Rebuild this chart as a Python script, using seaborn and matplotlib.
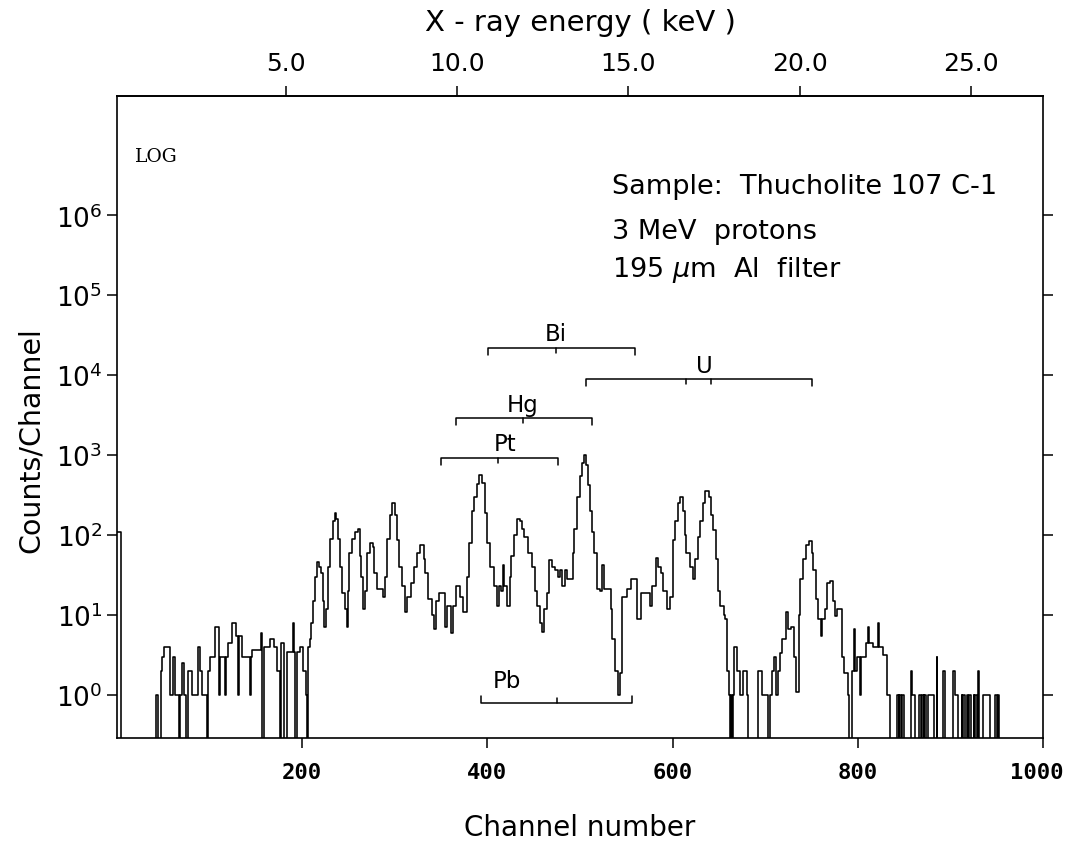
import numpy as np
import pandas as pd
import matplotlib
matplotlib.use('Agg')
import matplotlib.pyplot as plt
import seaborn as sns
from matplotlib.ticker import FixedLocator, FixedFormatter, LogFormatterMathtext, NullLocator, FormatStrFormatter

# Spectrum read off the figure as steps: channel where a level starts, counts at that level
# channels 0 - 204
chan_a = [0, 4, 42, 44, 47, 49, 51, 57, 61, 63,
          67, 68, 70, 72, 75, 77, 81, 88, 90, 92,
          97, 98, 100, 106, 110, 111, 117, 118, 120, 124,
          128, 131, 132, 135, 144, 145, 146, 156, 157, 159,
          165, 170, 173, 176, 177, 180, 184, 190, 191, 192,
          194, 198, 201, 204]
counts_a = [110, 0, 1, 0, 2, 3, 4, 1, 3, 1,
            0, 1, 2.5, 1, 0, 2, 1, 4, 2, 1,
            0, 2, 3, 7, 1, 3, 1, 3, 4.5, 8,
            5.5, 1, 5.5, 3, 1, 3, 3.7, 6, 0, 4,
            5, 4, 2, 0, 4.5, 0, 3.5, 8, 3.5, 0,
            3.5, 4, 2, 1]

# channels 205 - 544 (Pt, Hg, Bi, Pb region)
chan_b = [205, 206, 208, 210, 212, 214, 216, 218, 220, 222,
          224, 226, 228, 230, 233, 235, 237, 239, 241, 243,
          246, 248, 249, 251, 254, 257, 260, 262, 264, 266,
          268, 270, 273, 276, 278, 281, 287, 289, 292, 295,
          297, 300, 302, 305, 308, 311, 313, 318, 321, 324,
          327, 331, 333, 336, 340, 342, 345, 348, 354, 356,
          361, 363, 366, 370, 374, 378, 380, 383, 386, 389,
          391, 394, 397, 400, 403, 407, 410, 412, 415, 417,
          418, 421, 424, 426, 429, 432, 435, 437, 440, 444,
          448, 451, 454, 457, 459, 461, 464, 467, 470, 473,
          476, 478, 481, 484, 486, 492, 494, 497, 500, 502,
          504, 507, 509, 511, 513, 515, 518, 522, 524, 526,
          533, 535, 538, 541, 543]
counts_b = [0, 4, 5, 8, 15, 30, 46, 40, 34, 15,
            7, 12, 40, 90, 150, 190, 160, 90, 40, 19,
            12, 7, 20, 60, 90, 110, 120, 54, 30, 12,
            20, 60, 80, 70, 34, 21, 17, 30, 90, 180,
            250, 180, 87, 40, 23, 11, 17, 25, 40, 60,
            75, 50, 34, 16, 10, 6.6, 15, 19, 7, 13,
            6, 13, 23, 17, 11, 30, 80, 200, 300, 440,
            560, 450, 190, 80, 40, 23, 13, 23, 20, 42,
            23, 13, 30, 54, 100, 160, 150, 120, 95, 60,
            40, 20, 13, 8, 6.2, 12, 19, 49, 40, 37,
            30, 37, 23, 37, 28, 60, 120, 300, 550, 800,
            1000, 750, 420, 200, 110, 60, 21, 20, 42, 21,
            12, 5, 2, 1, 1.9]

# channels 545 - 834 (U region)
chan_c = [545, 551, 555, 562, 566, 576, 578, 582, 584, 587,
          590, 594, 597, 600, 603, 606, 608, 611, 613, 615,
          619, 622, 624, 627, 630, 633, 635, 639, 642, 644,
          647, 649, 651, 655, 657, 659, 661, 662, 663, 664,
          665, 666, 670, 673, 676, 680, 681, 692, 697, 703,
          705, 707, 709, 712, 714, 716, 718, 722, 723, 725,
          728, 731, 733, 736, 738, 741, 744, 747, 750, 752,
          755, 757, 760, 761, 765, 767, 770, 773, 775, 778,
          783, 785, 789, 791, 794, 796, 797, 799, 802, 803,
          809, 811, 812, 816, 822, 823, 827, 832]
counts_c = [17, 21, 28, 9, 19, 13, 23, 52, 40, 34,
            20, 12, 17, 87, 150, 250, 300, 200, 100, 60,
            40, 28, 50, 95, 150, 250, 360, 300, 180, 115,
            50, 20, 13, 10, 9, 2, 1, 0, 1, 0,
            1, 4, 2, 1, 2, 1, 0, 2, 1, 0,
            1, 2, 3, 1, 2, 3.4, 5, 8, 11, 6.6,
            7, 3, 1.1, 10, 28, 50, 75, 85, 60, 37,
            16, 9, 5.4, 9, 12, 25, 27, 15, 9.6, 12,
            3, 1.9, 1, 0, 2, 6.6, 2, 3, 1, 3,
            4.5, 7, 4.5, 4, 8, 4, 3.2, 1]

# channels 835 - 1000 (tail of single counts)
chan_d = [835, 842, 844, 845, 847, 848, 850, 857, 859, 862,
          866, 868, 869, 871, 872, 874, 876, 882, 885, 886,
          892, 894, 903, 905, 908, 912, 913, 914, 916, 918,
          919, 920, 922, 925, 926, 927, 929, 930, 931, 935,
          943, 948, 950, 951, 953, 1000]
counts_d = [0, 1, 0, 1, 0, 1, 0, 2, 1, 0,
            1, 0, 1, 0, 1, 0, 1, 0, 3, 0,
            2, 0, 2, 1, 0, 1, 0, 1, 0, 1,
            0, 1, 0, 1, 0, 1, 0, 2, 0, 1,
            0, 1, 0, 1, 0, 0]

# Element line markers: name, bracket ends, inner ticks, level, label channel
elements = ['Bi', 'U', 'Hg', 'Pt', 'Pb']
bracket_left = [401, 507, 366, 350, 393]
bracket_right = [559, 750, 513, 476, 556]
bracket_ticks = [[474], [615, 642], [438], [411], [475]]
bracket_level = [2.2e4, 8.9e3, 2.9e3, 930, 0.8]
label_chan = [474, 634, 438, 419, 421]

energy_ticks = [5.0, 10.0, 15.0, 20.0, 25.0]
channel_ticks = [200, 400, 600, 800, 1000]
channel_labels = ['200', '400', '600', '800', '']
count_ticks = [1, 10, 100, 1e3, 1e4, 1e5, 1e6]

df = pd.DataFrame({'channel': chan_a + chan_b + chan_c + chan_d,
                   'counts': counts_a + counts_b + counts_c + counts_d})
# empty channels sit on the bottom of the log axis
df['shown'] = df['counts'].where(df['counts'] > 0, 0.05)

sns.set_theme(style='ticks')
plt.rcParams['font.family'] = ['DejaVu Sans']
plt.rcParams['mathtext.fontset'] = 'dejavusans'
for key in ['text.color', 'axes.labelcolor', 'xtick.color', 'ytick.color', 'axes.edgecolor']:
    plt.rcParams[key] = 'black'

fig = plt.figure(figsize=(10.66, 8.45), dpi=100)
ax = fig.add_axes([117 / 1066, 1 - 739 / 845, 926 / 1066, 642 / 845])

sns.lineplot(data=df, x='channel', y='shown', drawstyle='steps-post', color='black',
             lw=1.15, estimator=None, sort=False, ax=ax)

ax.set_yscale('log')
ax.set_xlim(0, 1000)
ax.set_ylim(0.29, 3.1e7)
ax.yaxis.set_major_locator(FixedLocator(count_ticks))
ax.yaxis.set_major_formatter(LogFormatterMathtext())
ax.yaxis.set_minor_locator(NullLocator())
ax.xaxis.set_major_locator(FixedLocator(channel_ticks))
ax.xaxis.set_major_formatter(FixedFormatter(channel_labels))
ax.tick_params(axis='both', direction='out', length=7, width=1.1, labelsize=19)
ax.tick_params(axis='y', right=True, labelright=False)
ax.tick_params(axis='x', labelsize=16, pad=10)
for lab in ax.get_xticklabels():
    lab.set_fontfamily('DejaVu Sans Mono')
    lab.set_fontweight('bold')
# last channel label sits against the right edge of the figure, as in the original
ax.annotate(str(channel_ticks[-1]), xy=(channel_ticks[-1], 0), xycoords=('data', 'axes fraction'),
            xytext=(15, -17), textcoords='offset points', ha='right', va='top',
            fontsize=16, family='DejaVu Sans Mono', fontweight='bold')
for sp in ax.spines.values():
    sp.set_visible(True)
    sp.set_linewidth(1.2)

ax.set_xlabel('Channel number', fontsize=20)
ax.xaxis.set_label_coords(0.5, -0.117)
ax.set_ylabel('Counts/Channel', fontsize=20.5)
ax.yaxis.set_label_coords(-0.078, 0.466)


def ch2kev(c):
    return (np.asarray(c) + 2.4) / 36.98


def kev2ch(e):
    return np.asarray(e) * 36.98 - 2.4


sec = ax.secondary_xaxis('top', functions=(ch2kev, kev2ch))
sec.set_xticks(energy_ticks)
sec.xaxis.set_major_formatter(FormatStrFormatter('%.1f'))
sec.xaxis.set_minor_locator(NullLocator())
sec.tick_params(direction='out', length=7, width=1.1, labelsize=18, pad=8)
sec.set_xlabel('X - ray energy ( keV )', fontsize=21, labelpad=15)

# element brackets
for name, lo, hi, ticks, lev, lx in zip(elements, bracket_left, bracket_right,
                                        bracket_ticks, bracket_level, label_chan):
    sign = 1 if name == 'Pb' else -1
    end = lev * 10 ** (sign * 7 / 80)
    mid = lev * 10 ** (sign * 5 / 80)
    ax.plot([lo, lo, hi, hi], [end, lev, lev, end], color='black', lw=1.1)
    for t in ticks:
        ax.plot([t, t], [lev, mid], color='black', lw=1.1)
    off = 22 if name == 'Pb' else 14
    ax.annotate(name, xy=(lx, lev), xytext=(0, off * 0.72), textcoords='offset points',
                ha='center', va='center', fontsize=16.5)

ax.text(0.019, 0.907, 'LOG', transform=ax.transAxes, fontsize=13.5,
        family='DejaVu Serif', va='center', ha='left')
ax.text(0.535, 0.86, 'Sample:  Thucholite 107 C-1', transform=ax.transAxes,
        fontsize=19.5, va='center', ha='left')
ax.text(0.535, 0.79, '3 MeV  protons', transform=ax.transAxes,
        fontsize=19.5, va='center', ha='left')
ax.text(0.535, 0.73, '195 $\\mu$m  Al  filter', transform=ax.transAxes,
        fontsize=19.5, va='center', ha='left')

fig.savefig('out.png', dpi=100)
